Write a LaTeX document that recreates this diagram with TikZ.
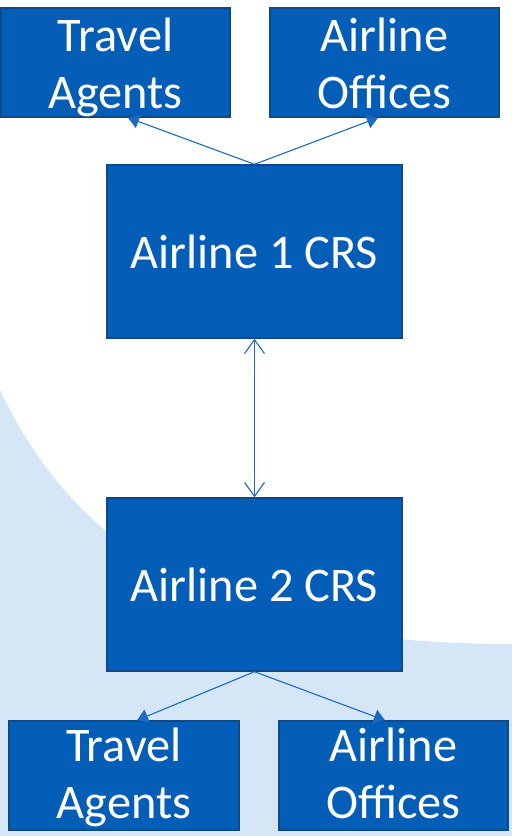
\documentclass[tikz,border=0pt]{standalone}
\usepackage{fontspec}
\setmainfont{Carlito}
\usetikzlibrary{arrows.meta}
\definecolor{boxfill}{RGB}{4,94,184}
\definecolor{boxline}{RGB}{12,74,140}
\definecolor{bgblue}{RGB}{213,231,247}
\definecolor{linkcol}{RGB}{28,106,196}
\tikzset{
  box/.style={draw=boxline, line width=1.4bp, fill=boxfill, inner sep=0pt, text=white,
    font=\fontsize{48.5}{57}\selectfont, align=center},
  smallbox/.style={box, minimum width=229bp, minimum height=109bp},
  bigbox/.style={box, minimum width=295bp, minimum height=173bp},
  lbl/.style={text=white, inner sep=0pt, font=\fontsize{48.5}{57}\selectfont, align=center, anchor=base},
  link/.style={draw=linkcol, line width=1.1bp},
  fan/.style={link, -{Triangle[length=11bp,width=14bp]}},
  both/.style={link, {Straight Barb[length=14bp,width=20bp,line width=1.1bp]}-{Straight Barb[length=14bp,width=20bp,line width=1.1bp]}}
}
\begin{document}
\begin{tikzpicture}[x=1bp,y=-1bp]
\useasboundingbox (0,0) rectangle (512,836);
\fill[white] (0,0) rectangle (512,836);
\fill[bgblue] (0,390) .. controls (90,580) and (262,644) .. (512,644) -- (512,836) -- (0,836) -- cycle;
% boxes
\node[smallbox] (ta1) at (115.5,62.5) {};
\node[lbl] (ta1t) at (115.5,108) {Travel\\Agents};
\node[smallbox] (ao1) at (384.5,62.5) {};
\node[lbl] (ao1t) at (384.5,108) {Airline\\Offices};
\node[bigbox] (crs1) at (254.5,251.5) {Airline 1 CRS};
\node[bigbox] (crs2) at (254.5,584.5) {Airline 2 CRS};
\node[smallbox, minimum width=230bp] (ta2) at (124,775.5) {};
\node[lbl] (ta2t) at (124,818) {Travel\\Agents};
\node[smallbox] (ao2) at (393.5,775.5) {};
\node[lbl] (ao2t) at (393.5,818) {Airline\\Offices};
% connectors
\draw[fan] (crs1.north) -- ([xshift=12.5bp]ta1.south);
\draw[fan] (crs1.north) -- ([xshift=-6.5bp]ao1.south);
\draw[both] (crs1.south) -- (crs2.north);
\draw[fan] (crs2.south) -- ([xshift=13bp]ta2.north);
\draw[fan] (crs2.south) -- ([xshift=-8.5bp]ao2.north);
\end{tikzpicture}
\end{document}
